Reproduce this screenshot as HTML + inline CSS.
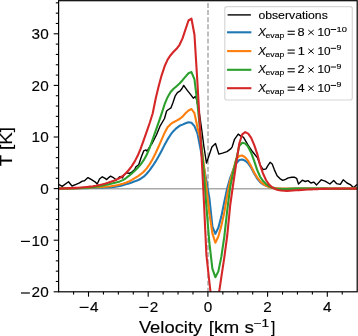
<!DOCTYPE html>
<html><head><meta charset="utf-8"><style>html,body{margin:0;padding:0;background:#fff;overflow:hidden}svg{display:block;will-change:transform}text{stroke:#000;stroke-width:0.14px}</style></head>
<body><svg width="358" height="336" viewBox="0 0 358 336">
<rect x="0" y="0" width="358" height="336" fill="#fff"/><defs><clipPath id="ax"><rect x="58.6" y="0.7" width="298.60" height="291.10"/></clipPath></defs><g clip-path="url(#ax)"><line x1="58.6" x2="357.2" y1="188.8" y2="188.8" stroke="#aaaaaa" stroke-width="1.5"/><line x1="208" x2="208" y1="3.0" y2="291.8" stroke="#aaaaaa" stroke-width="1.5" stroke-dasharray="4.9 2.22"/><path d="M58.60,184.30 L62.20,186.40 L68.50,181.80 L72.00,186.00 L75.50,184.60 L79.00,183.20 L82.40,181.10 L84.50,180.70 L88.00,177.60 L91.50,179.70 L95.00,181.80 L97.20,184.00 L99.50,179.00 L102.30,176.80 L105.10,178.40 L106.70,179.60 L109.00,177.30 L110.60,176.20 L112.90,177.30 L115.10,179.00 L116.20,180.10 L118.50,177.90 L120.10,176.50 L122.40,177.90 L124.60,174.00 L126.80,172.80 L129.10,173.40 L131.30,172.50 L133.50,170.60 L135.00,168.90 L136.00,166.80 L138.70,164.70 L141.50,156.50 L143.70,150.90 L146.00,149.90 L147.10,151.20 L150.40,145.50 L152.00,143.70 L156.50,134.80 L160.20,125.80 L164.50,118.50 L166.60,111.00 L168.50,109.50 L171.00,107.80 L173.00,102.50 L175.10,96.20 L177.40,92.70 L180.20,90.90 L182.00,88.50 L183.70,85.40 L185.10,87.40 L187.30,90.40 L190.30,94.10 L193.30,98.20 L195.50,96.40 L196.30,98.60 L198.90,110.00 L201.50,128.00 L203.80,145.80 L206.50,163.10 L209.20,155.00 L211.90,147.00 L215.50,143.50 L218.80,154.10 L222.50,153.10 L227.00,151.60 L230.70,148.90 L232.20,146.80 L234.50,139.30 L238.20,134.10 L241.20,136.40 L243.40,137.10 L245.60,140.80 L248.60,146.00 L251.60,150.50 L254.60,154.20 L257.50,157.90 L260.40,165.40 L263.20,169.60 L266.00,168.90 L268.00,165.40 L270.10,162.30 L272.20,164.00 L274.30,169.60 L277.10,175.80 L279.90,178.60 L282.70,180.40 L285.50,179.30 L288.30,177.90 L291.80,177.20 L294.70,177.30 L296.60,178.30 L298.50,184.00 L302.30,180.20 L305.20,181.50 L308.00,180.60 L310.90,183.00 L313.70,182.10 L316.60,184.90 L321.30,179.80 L325.10,181.10 L329.90,184.00 L333.70,180.60 L336.50,183.60 L340.30,184.40 L343.20,179.80 L347.00,183.00 L350.80,184.90 L353.60,187.80 L356.50,184.90 L358.00,184.50" fill="none" stroke="#000" stroke-width="1.4" stroke-linejoin="round"/><path d="M57.16,188.60 L60.14,188.64 L63.13,188.70 L66.11,188.71 L69.10,188.68 L72.08,188.62 L75.07,188.54 L78.05,188.43 L81.04,188.32 L84.02,188.20 L87.01,188.08 L89.99,187.96 L92.98,187.86 L95.96,187.78 L98.95,187.72 L101.93,187.65 L104.92,187.56 L107.90,187.41 L110.89,187.20 L113.87,186.88 L116.86,186.45 L119.84,185.87 L122.83,185.16 L125.81,184.33 L128.80,183.41 L131.78,182.41 L134.77,181.36 L137.75,180.19 L140.74,178.72 L143.72,176.68 L146.71,173.75 L149.69,170.07 L152.68,165.97 L155.66,161.41 L158.65,156.33 L161.63,150.73 L164.62,144.86 L167.60,139.38 L170.59,134.72 L173.57,130.97 L176.56,128.05 L179.54,125.83 L182.53,124.60 L185.51,123.20 L188.50,122.20 L191.48,122.70 L194.47,126.10 L197.45,133.24 L200.44,148.43 L203.42,164.78 L206.41,180.74 L209.39,198.10 L212.38,226.38 L215.36,233.80 L218.35,227.71 L221.33,216.60 L224.32,201.80 L227.30,188.04 L230.29,177.57 L233.27,169.76 L236.26,163.35 L239.24,160.04 L242.23,159.45 L245.21,160.67 L248.20,163.30 L251.18,167.69 L254.17,173.45 L257.15,178.47 L260.14,182.05 L263.12,184.39 L266.11,185.84 L269.09,186.84 L272.08,187.57 L275.06,188.09 L278.05,188.44 L281.03,188.64 L284.02,188.73 L287.00,188.73 L289.99,188.69 L292.97,188.61 L295.96,188.54 L298.94,188.49 L301.93,188.45 L304.91,188.43 L307.90,188.43 L310.88,188.44 L313.87,188.45 L316.85,188.48 L319.84,188.51 L322.82,188.55 L325.81,188.59 L328.79,188.62 L331.78,188.66 L334.76,188.69 L337.75,188.72 L340.73,188.73 L343.72,188.74 L346.70,188.73 L349.69,188.71 L352.67,188.67 L355.66,188.62 L358.64,188.58" fill="none" stroke="#1f77b4" stroke-width="2.1" stroke-linejoin="round"/><path d="M57.16,188.60 L60.14,188.64 L63.13,188.67 L66.11,188.66 L69.10,188.61 L72.08,188.53 L75.07,188.41 L78.05,188.27 L81.04,188.11 L84.02,187.94 L87.01,187.76 L89.99,187.59 L92.98,187.42 L95.96,187.27 L98.95,187.12 L101.93,186.96 L104.92,186.77 L107.90,186.52 L110.89,186.19 L113.87,185.75 L116.86,185.19 L119.84,184.48 L122.83,183.68 L125.81,182.79 L128.80,181.60 L131.78,179.96 L134.77,178.15 L137.75,176.29 L140.74,174.22 L143.72,171.69 L146.71,168.37 L149.69,164.11 L152.68,158.94 L155.66,153.02 L158.65,146.45 L161.63,139.58 L164.62,132.86 L167.60,127.28 L170.59,124.21 L173.57,122.24 L176.56,120.64 L179.54,119.00 L182.53,116.60 L185.51,113.20 L188.50,110.50 L191.48,109.00 L194.47,113.20 L197.45,127.30 L200.44,139.19 L203.42,161.18 L206.41,187.25 L209.39,212.98 L212.38,233.34 L215.36,242.70 L218.35,236.55 L221.33,225.90 L224.32,212.27 L227.30,194.47 L230.29,180.01 L233.27,170.03 L236.26,159.09 L239.24,156.08 L242.23,155.52 L245.21,157.31 L248.20,160.95 L251.18,166.38 L254.17,172.46 L257.15,177.38 L260.14,181.15 L263.12,183.94 L266.11,185.90 L269.09,187.13 L272.08,187.84 L275.06,188.22 L278.05,188.39 L281.03,188.45 L284.02,188.46 L287.00,188.48 L289.99,188.49 L292.97,188.50 L295.96,188.51 L298.94,188.52 L301.93,188.54 L304.91,188.55 L307.90,188.55 L310.88,188.56 L313.87,188.57 L316.85,188.58 L319.84,188.59 L322.82,188.60 L325.81,188.60 L328.79,188.61 L331.78,188.61 L334.76,188.61 L337.75,188.62 L340.73,188.62 L343.72,188.62 L346.70,188.61 L349.69,188.61 L352.67,188.61 L355.66,188.60 L358.64,188.60" fill="none" stroke="#ff7f0e" stroke-width="2.1" stroke-linejoin="round"/><path d="M57.16,188.60 L60.14,188.54 L63.13,188.45 L66.11,188.37 L69.10,188.30 L72.08,188.24 L75.07,188.16 L78.05,188.07 L81.04,187.95 L84.02,187.79 L87.01,187.60 L89.99,187.35 L92.98,187.04 L95.96,186.66 L98.95,186.20 L101.93,185.68 L104.92,185.09 L107.90,184.45 L110.89,183.77 L113.87,183.05 L116.86,182.29 L119.84,181.40 L122.83,180.15 L125.81,178.28 L128.80,175.93 L131.78,173.41 L134.77,170.72 L137.75,167.75 L140.74,164.35 L143.72,160.22 L146.71,154.82 L149.69,147.78 L152.68,139.45 L155.66,130.94 L158.65,122.37 L161.63,113.60 L164.62,104.20 L167.60,97.20 L170.59,92.00 L173.57,88.80 L176.56,86.20 L179.54,83.50 L182.53,80.20 L185.51,76.60 L188.50,73.20 L191.48,72.10 L194.47,79.30 L197.45,103.50 L200.44,133.93 L203.42,166.87 L206.41,206.74 L209.39,242.98 L212.38,268.71 L215.36,277.20 L218.35,271.36 L221.33,256.89 L224.32,236.59 L227.30,209.82 L230.29,186.42 L233.27,172.11 L236.26,159.39 L239.24,145.98 L242.23,142.81 L245.21,143.41 L248.20,146.92 L251.18,152.81 L254.17,160.95 L257.15,169.94 L260.14,176.75 L263.12,181.08 L266.11,184.07 L269.09,186.20 L272.08,187.65 L275.06,188.53 L278.05,188.99 L281.03,189.17 L284.02,189.16 L287.00,189.04 L289.99,188.88 L292.97,188.75 L295.96,188.64 L298.94,188.56 L301.93,188.51 L304.91,188.48 L307.90,188.47 L310.88,188.48 L313.87,188.50 L316.85,188.53 L319.84,188.57 L322.82,188.62 L325.81,188.67 L328.79,188.72 L331.78,188.77 L334.76,188.82 L337.75,188.85 L340.73,188.87 L343.72,188.88 L346.70,188.87 L349.69,188.85 L352.67,188.80 L355.66,188.72 L358.64,188.67" fill="none" stroke="#2ca02c" stroke-width="2.1" stroke-linejoin="round"/><path d="M57.16,188.50 L60.14,188.45 L63.13,188.34 L66.11,188.24 L69.10,188.13 L72.08,188.01 L75.07,187.87 L78.05,187.70 L81.04,187.50 L84.02,187.26 L87.01,186.97 L89.99,186.62 L92.98,186.21 L95.96,185.72 L98.95,185.15 L101.93,184.48 L104.92,183.72 L107.90,182.84 L110.89,181.85 L113.87,180.71 L116.86,179.42 L119.84,177.95 L122.83,176.00 L125.81,173.29 L128.80,170.00 L131.78,166.10 L134.77,161.39 L137.75,155.59 L140.74,148.47 L143.72,140.22 L146.71,131.67 L149.69,122.98 L152.68,113.50 L155.66,98.80 L158.65,86.20 L161.63,75.30 L164.62,66.30 L167.60,59.60 L170.59,55.20 L173.57,51.80 L176.56,48.80 L179.54,44.80 L182.53,38.40 L185.51,29.40 L188.50,20.50 L191.48,18.70 L194.47,34.70 L197.45,83.00 L200.44,135.00 L203.42,191.00 L206.41,255.00 L209.39,282.00 L212.38,308.60 L215.36,311.00 L218.35,297.40 L221.33,277.10 L224.32,257.40 L227.30,235.00 L230.29,204.50 L233.27,183.50 L236.26,163.00 L239.24,143.70 L242.23,134.30 L245.21,132.10 L248.20,133.60 L251.18,137.80 L254.17,144.87 L257.15,153.58 L260.14,165.24 L263.12,173.78 L266.11,180.23 L269.09,184.61 L272.08,187.23 L275.06,188.94 L278.05,190.00 L281.03,190.57 L284.02,190.82 L287.00,190.86 L289.99,190.74 L292.97,190.54 L295.96,190.31 L298.94,190.09 L301.93,189.89 L304.91,189.71 L307.90,189.54 L310.88,189.39 L313.87,189.25 L316.85,189.13 L319.84,189.02 L322.82,188.92 L325.81,188.84 L328.79,188.77 L331.78,188.71 L334.76,188.66 L337.75,188.62 L340.73,188.60 L343.72,188.58 L346.70,188.57 L349.69,188.58 L352.67,188.59 L355.66,188.61 L358.64,188.62" fill="none" stroke="#d62728" stroke-width="2.1" stroke-linejoin="round"/></g><g stroke="#000" stroke-width="1.1"><line x1="53.70" x2="58.6" y1="291.80" y2="291.80"/><line x1="53.70" x2="58.6" y1="240.20" y2="240.20"/><line x1="53.70" x2="58.6" y1="188.60" y2="188.60"/><line x1="53.70" x2="58.6" y1="137.00" y2="137.00"/><line x1="53.70" x2="58.6" y1="85.40" y2="85.40"/><line x1="53.70" x2="58.6" y1="33.80" y2="33.80"/><line x1="55.80" x2="58.6" y1="281.48" y2="281.48"/><line x1="55.80" x2="58.6" y1="271.16" y2="271.16"/><line x1="55.80" x2="58.6" y1="260.84" y2="260.84"/><line x1="55.80" x2="58.6" y1="250.52" y2="250.52"/><line x1="55.80" x2="58.6" y1="229.88" y2="229.88"/><line x1="55.80" x2="58.6" y1="219.56" y2="219.56"/><line x1="55.80" x2="58.6" y1="209.24" y2="209.24"/><line x1="55.80" x2="58.6" y1="198.92" y2="198.92"/><line x1="55.80" x2="58.6" y1="178.28" y2="178.28"/><line x1="55.80" x2="58.6" y1="167.96" y2="167.96"/><line x1="55.80" x2="58.6" y1="157.64" y2="157.64"/><line x1="55.80" x2="58.6" y1="147.32" y2="147.32"/><line x1="55.80" x2="58.6" y1="126.68" y2="126.68"/><line x1="55.80" x2="58.6" y1="116.36" y2="116.36"/><line x1="55.80" x2="58.6" y1="106.04" y2="106.04"/><line x1="55.80" x2="58.6" y1="95.72" y2="95.72"/><line x1="55.80" x2="58.6" y1="75.08" y2="75.08"/><line x1="55.80" x2="58.6" y1="64.76" y2="64.76"/><line x1="55.80" x2="58.6" y1="54.44" y2="54.44"/><line x1="55.80" x2="58.6" y1="44.12" y2="44.12"/><line x1="55.80" x2="58.6" y1="23.48" y2="23.48"/><line x1="55.80" x2="58.6" y1="13.16" y2="13.16"/><line x1="55.80" x2="58.6" y1="2.84" y2="2.84"/><line x1="88.50" x2="88.50" y1="291.8" y2="296.70"/><line x1="148.20" x2="148.20" y1="291.8" y2="296.70"/><line x1="207.90" x2="207.90" y1="291.8" y2="296.70"/><line x1="267.60" x2="267.60" y1="291.8" y2="296.70"/><line x1="327.30" x2="327.30" y1="291.8" y2="296.70"/><line x1="73.57" x2="73.57" y1="291.8" y2="294.60"/><line x1="103.42" x2="103.42" y1="291.8" y2="294.60"/><line x1="118.35" x2="118.35" y1="291.8" y2="294.60"/><line x1="133.28" x2="133.28" y1="291.8" y2="294.60"/><line x1="163.12" x2="163.12" y1="291.8" y2="294.60"/><line x1="178.05" x2="178.05" y1="291.8" y2="294.60"/><line x1="192.97" x2="192.97" y1="291.8" y2="294.60"/><line x1="222.83" x2="222.83" y1="291.8" y2="294.60"/><line x1="237.75" x2="237.75" y1="291.8" y2="294.60"/><line x1="252.68" x2="252.68" y1="291.8" y2="294.60"/><line x1="282.52" x2="282.52" y1="291.8" y2="294.60"/><line x1="297.45" x2="297.45" y1="291.8" y2="294.60"/><line x1="312.38" x2="312.38" y1="291.8" y2="294.60"/><line x1="342.23" x2="342.23" y1="291.8" y2="294.60"/></g><rect x="58.6" y="0.7" width="298.60" height="291.10" fill="none" stroke="#000" stroke-width="1.2"/><g font-family="Liberation Sans" fill="#000"><rect x="20.97" y="292.40" width="8.9" height="1.2"/><text x="35.64" y="297.15" text-anchor="middle" font-size="15.3">2</text><text x="44.48" y="297.15" text-anchor="middle" font-size="15.3">0</text><rect x="20.97" y="240.80" width="8.9" height="1.2"/><text x="35.64" y="245.55" text-anchor="middle" font-size="15.3">1</text><text x="44.48" y="245.55" text-anchor="middle" font-size="15.3">0</text><text x="44.48" y="193.95" text-anchor="middle" font-size="15.3">0</text><text x="35.64" y="142.35" text-anchor="middle" font-size="15.3">1</text><text x="44.48" y="142.35" text-anchor="middle" font-size="15.3">0</text><text x="35.64" y="90.75" text-anchor="middle" font-size="15.3">2</text><text x="44.48" y="90.75" text-anchor="middle" font-size="15.3">0</text><text x="35.64" y="39.15" text-anchor="middle" font-size="15.3">3</text><text x="44.48" y="39.15" text-anchor="middle" font-size="15.3">0</text><rect x="79.66" y="306.80" width="8.9" height="1.2"/><text x="94.33" y="311.60" text-anchor="middle" font-size="15.3">4</text><rect x="139.35" y="306.80" width="8.9" height="1.2"/><text x="154.02" y="311.60" text-anchor="middle" font-size="15.3">2</text><text x="207.90" y="311.60" text-anchor="middle" font-size="15.3">0</text><text x="267.60" y="311.60" text-anchor="middle" font-size="15.3">2</text><text x="327.30" y="311.60" text-anchor="middle" font-size="15.3">4</text></g><g font-family="Liberation Sans" fill="#000"><rect x="224.8" y="6.6" width="127.5" height="93.4" rx="2.2" ry="2.2" fill="#fff" fill-opacity="0.8" stroke="#d6d6d6" stroke-width="1.2"/><line x1="228.3" x2="250.2" y1="14.9" y2="14.9" stroke="#000" stroke-width="1.4" stroke-linecap="square"/><line x1="228.1" x2="250.3" y1="32.3" y2="32.3" stroke="#1f77b4" stroke-width="2.1" stroke-linecap="square"/><line x1="228.1" x2="250.3" y1="51.1" y2="51.1" stroke="#ff7f0e" stroke-width="2.1" stroke-linecap="square"/><line x1="228.1" x2="250.3" y1="69.8" y2="69.8" stroke="#2ca02c" stroke-width="2.1" stroke-linecap="square"/><line x1="228.1" x2="250.3" y1="88.2" y2="88.2" stroke="#d62728" stroke-width="2.1" stroke-linecap="square"/><text x="258.4" y="18.8" font-size="11.8" textLength="69.4" lengthAdjust="spacingAndGlyphs">observations</text><text x="258.2" y="35.7" font-size="11.5" font-style="italic">X</text><text x="265.5" y="37.7" font-size="8.05" textLength="18.8" lengthAdjust="spacingAndGlyphs">evap</text><rect x="287.6" y="30.75" width="7.2" height="1.05"/><rect x="287.6" y="33.75" width="7.2" height="1.05"/><text x="297.5" y="35.7" font-size="11.5" textLength="7.1" lengthAdjust="spacingAndGlyphs">8</text><path d="M308.3,30.00 L313.7,34.80 M313.7,30.00 L308.3,34.80" stroke="#000" stroke-width="1.0" fill="none"/><text x="317.4" y="35.7" font-size="11.5" textLength="13.1" lengthAdjust="spacingAndGlyphs">10</text><rect x="330.7" y="29.05" width="5.4" height="0.95"/><text x="336.5" y="31.5" font-size="8.05" textLength="10.4" lengthAdjust="spacingAndGlyphs">10</text><text x="258.2" y="54.5" font-size="11.5" font-style="italic">X</text><text x="265.5" y="56.5" font-size="8.05" textLength="18.8" lengthAdjust="spacingAndGlyphs">evap</text><rect x="287.6" y="49.55" width="7.2" height="1.05"/><rect x="287.6" y="52.55" width="7.2" height="1.05"/><text x="297.8" y="54.5" font-size="11.5" textLength="7.1" lengthAdjust="spacingAndGlyphs">1</text><path d="M308.3,48.80 L313.7,53.60 M313.7,48.80 L308.3,53.60" stroke="#000" stroke-width="1.0" fill="none"/><text x="317.4" y="54.5" font-size="11.5" textLength="13.1" lengthAdjust="spacingAndGlyphs">10</text><rect x="330.7" y="47.85" width="5.4" height="0.95"/><text x="336.5" y="50.3" font-size="8.05" textLength="4.9" lengthAdjust="spacingAndGlyphs">9</text><text x="258.2" y="73.2" font-size="11.5" font-style="italic">X</text><text x="265.5" y="75.2" font-size="8.05" textLength="18.8" lengthAdjust="spacingAndGlyphs">evap</text><rect x="287.6" y="68.25" width="7.2" height="1.05"/><rect x="287.6" y="71.25" width="7.2" height="1.05"/><text x="297.5" y="73.2" font-size="11.5" textLength="7.1" lengthAdjust="spacingAndGlyphs">2</text><path d="M308.3,67.50 L313.7,72.30 M313.7,67.50 L308.3,72.30" stroke="#000" stroke-width="1.0" fill="none"/><text x="317.4" y="73.2" font-size="11.5" textLength="13.1" lengthAdjust="spacingAndGlyphs">10</text><rect x="330.7" y="66.55" width="5.4" height="0.95"/><text x="336.5" y="69.0" font-size="8.05" textLength="4.9" lengthAdjust="spacingAndGlyphs">9</text><text x="258.2" y="91.6" font-size="11.5" font-style="italic">X</text><text x="265.5" y="93.6" font-size="8.05" textLength="18.8" lengthAdjust="spacingAndGlyphs">evap</text><rect x="287.6" y="86.65" width="7.2" height="1.05"/><rect x="287.6" y="89.65" width="7.2" height="1.05"/><text x="297.5" y="91.6" font-size="11.5" textLength="7.1" lengthAdjust="spacingAndGlyphs">4</text><path d="M308.3,85.90 L313.7,90.70 M313.7,85.90 L308.3,90.70" stroke="#000" stroke-width="1.0" fill="none"/><text x="317.4" y="91.6" font-size="11.5" textLength="13.1" lengthAdjust="spacingAndGlyphs">10</text><rect x="330.7" y="84.95" width="5.4" height="0.95"/><text x="336.5" y="87.4" font-size="8.05" textLength="4.9" lengthAdjust="spacingAndGlyphs">9</text></g><g font-family="Liberation Sans" fill="#000"><text x="138.9" y="332.9" font-size="15.6" textLength="63.3" lengthAdjust="spacingAndGlyphs">Velocity</text><text x="208.8" y="332.9" font-size="15.6" textLength="45" lengthAdjust="spacingAndGlyphs">[km s</text><text x="253.5" y="326.6" font-size="11" textLength="15.5" lengthAdjust="spacingAndGlyphs">−1</text><text x="271.1" y="332.9" font-size="15.6">]</text><text transform="translate(12,166.2) rotate(-90)" font-size="15.6" textLength="39.2" lengthAdjust="spacingAndGlyphs">T [K]</text></g>
</svg></body></html>
